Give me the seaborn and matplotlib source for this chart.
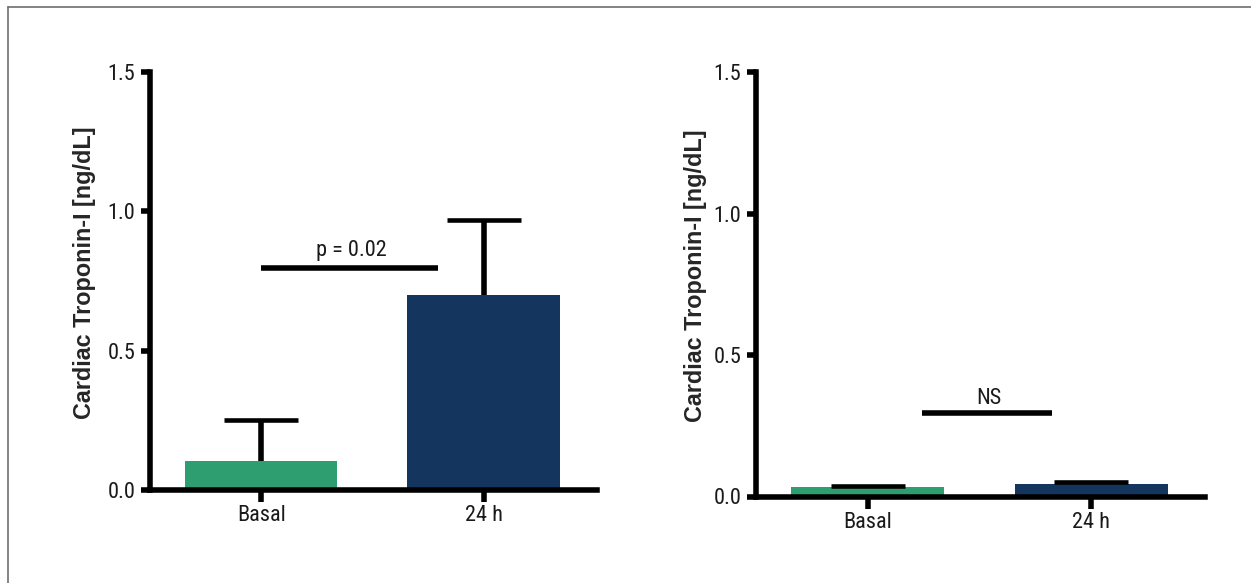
import matplotlib
matplotlib.use("Agg")
import matplotlib.pyplot as plt
import seaborn as sns
import pandas as pd
import numpy as np
from matplotlib.lines import Line2D

sns.set_theme(style="ticks")
NARROW = ['Liberation Sans Narrow', 'Roboto Condensed', 'Arial Narrow', 'Liberation Sans', 'DejaVu Sans']
plt.rcParams['font.family'] = NARROW

# ---- data ----
categories = ["Basal", "24 h"]
left_means = [0.104, 0.70]
left_sd = [0.147, 0.27]
right_means = [0.033, 0.044]
right_sd = [0.004, 0.006]
bar_colors = ["#2e9e70", "#14365e"]
y_ticks = [0.0, 0.5, 1.0, 1.5]
y_label = "Cardiac Troponin-I [ng/dL]"
left_sig = {"text": "p = 0.02", "y": 0.795, "x0": 0.0, "x1": 0.794}
right_sig = {"text": "NS", "y": 0.294, "x0": 0.242, "x1": 0.823}

W, H = 1251, 583
fig = plt.figure(figsize=(W / 100, H / 100), dpi=100)

def px_axes(l, r, b, t):
    return fig.add_axes([l / W, 1 - b / H, (r - l) / W, (b - t) / H])

ax1 = px_axes(150, 597, 490, 72)
ax2 = px_axes(756, 1205, 496.5, 72)

def draw(ax, means, sd, sig, labelpad, txt_off):
    df = pd.DataFrame({"group": categories, "value": means})
    sns.barplot(data=df, x="group", y="value", hue="group", palette=bar_colors,
                width=0.685, errorbar=None, legend=False, ax=ax, saturation=1,
                edgecolor="none", linewidth=0)
    eb = ax.errorbar(np.arange(len(categories)), means,
                     yerr=[np.zeros(len(sd)), sd], fmt="none", ecolor="black",
                     elinewidth=4, capsize=26.5, capthick=3.3, zorder=3)
    # show only the upper caps
    for cl in eb.lines[1]:
        yd = np.asarray(cl.get_ydata(), dtype=float)
        if np.allclose(yd, means):
            cl.set_visible(False)
    ax.set_ylim(0, 1.5)
    ax.set_xlim(-0.5, 1.51)
    ax.set_yticks(y_ticks)
    ax.set_yticklabels([f"{v:.1f}" for v in y_ticks])
    ax.set_xlabel("")
    ax.set_ylabel(y_label, fontsize=16.8, fontweight="bold",
                  family=["Liberation Sans", "DejaVu Sans"], labelpad=labelpad)
    ax.yaxis.label.set_y(0.52)
    for s in ["top", "right"]:
        ax.spines[s].set_visible(False)
    for s in ["left", "bottom"]:
        ax.spines[s].set_linewidth(4)
        ax.spines[s].set_color("black")
        ax.spines[s].set_capstyle("projecting")
    ax.tick_params(axis="y", length=6.5, width=4, labelsize=16, pad=4,
                   colors="black", labelcolor="#1a1a1a")
    ax.tick_params(axis="x", length=8.4, width=4, labelsize=16, pad=2.5,
                   colors="black", labelcolor="#1a1a1a")
    ax.plot([sig["x0"], sig["x1"]], [sig["y"], sig["y"]], color="black",
            lw=4, solid_capstyle="butt")
    ax.text((sig["x0"] + sig["x1"]) / 2 + 0.01, sig["y"] + txt_off, sig["text"],
            ha="center", va="baseline", fontsize=16, color="#1a1a1a")
    ax.set_facecolor("white")

draw(ax1, left_means, left_sd, left_sig, 8.5, 0.043)
draw(ax2, right_means, right_sd, right_sig, 4.5, 0.033)

# thin frame around figure (left and top edges visible)
fig.add_artist(Line2D([8 / W, 8 / W], [0, 1 - 7 / H], transform=fig.transFigure,
                      color="#6e6e6e", lw=1.2))
fig.add_artist(Line2D([8 / W, 1], [1 - 7 / H, 1 - 7 / H], transform=fig.transFigure,
                      color="#6e6e6e", lw=1.2))

fig.savefig("out.png", dpi=100, facecolor="white")
